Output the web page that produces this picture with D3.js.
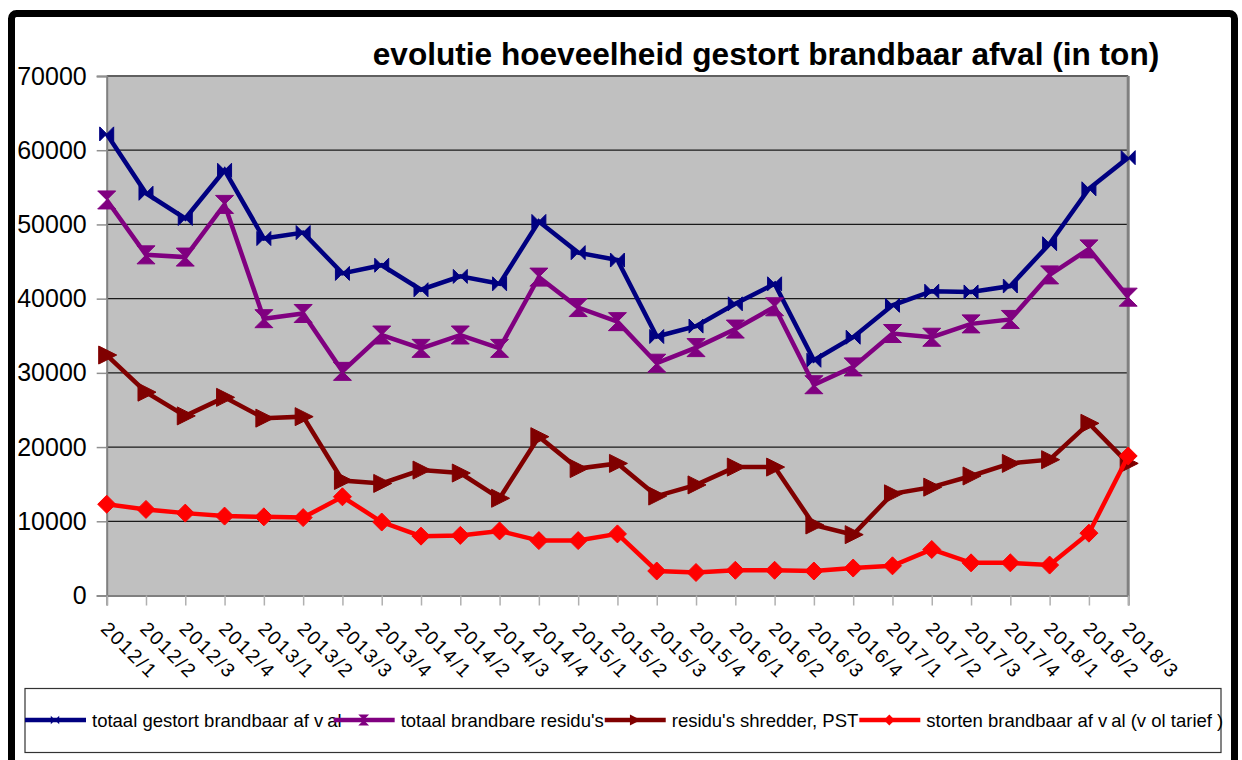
<!DOCTYPE html>
<html><head><meta charset="utf-8">
<script src="https://cdn.jsdelivr.net/npm/d3@7"></script>
<style>
html,body{margin:0;padding:0;background:#fff;}
text{font-family:"Liberation Sans",Arial,sans-serif;}
</style></head>
<body>
<svg id="chart" width="1242" height="760"></svg>
<script>
const categories = ["2012/1","2012/2","2012/3","2012/4","2013/1","2013/2","2013/3","2013/4","2014/1","2014/2","2014/3","2014/4","2015/1","2015/2","2015/3","2015/4","2016/1","2016/2","2016/3","2016/4","2017/1","2017/2","2017/3","2017/4","2018/1","2018/2","2018/3"];
const totaalGestort = [62200,54200,50800,57300,48100,48900,43400,44500,41200,43000,42000,50400,46200,45200,34900,36300,39300,42000,31700,34800,39100,41000,40900,41700,47400,54800,59000];
const totaalResidus = [53300,45900,45600,52700,37300,38000,30200,35100,33300,35100,33300,42900,38800,36900,31300,33400,35900,38900,28400,30800,35300,34800,36600,37200,43200,46700,40200];
const residusShredder = [32400,27400,24200,26700,23900,24100,15500,15100,16900,16500,13100,21400,17100,17800,13400,14900,17300,17300,9500,8200,13700,14600,16100,17800,18300,23200,17800];
const stortenVolTarief = [12300,11600,11100,10700,10600,10500,13300,9900,8000,8100,8700,7400,7400,8300,3300,3100,3400,3400,3300,3700,4000,6200,4400,4400,4100,8400,18800];
const yTicks = [0,10000,20000,30000,40000,50000,60000,70000];
const seriesNames = ["totaal gestort brandbaar afval","totaal brandbare residu's","residu's shredder, PST","storten brandbaar afval (vol tarief)"];
const seriesColors = ["#000080","#800080","#800000","#FF0000"];

const svg = d3.select("#chart");
const L = 106.7, R = 1128.2, T = 76, B = 595.5;

// outer frame
svg.append("rect").attr("x",11.5).attr("y",13.5).attr("width",1223).attr("height",770)
  .attr("rx",5).attr("fill","#fff").attr("stroke","#000").attr("stroke-width",7);

const x = d3.scalePoint().domain(categories).range([L,R]);
const y = d3.scaleLinear().domain([0,70000]).range([B,T]);

// plot background
svg.append("rect").attr("x",L).attr("y",T).attr("width",R-L).attr("height",B-T).attr("fill","#C0C0C0");

// gridlines
svg.append("g").selectAll("line").data(yTicks.filter(d=>d>0 && d<70000)).join("line")
  .attr("x1",L).attr("x2",R).attr("y1",d=>y(d)).attr("y2",d=>y(d))
  .attr("stroke","#1a1a1a").attr("stroke-width",1.2);
// plot border
svg.append("line").attr("x1",L).attr("x2",R).attr("y1",T).attr("y2",T).attr("stroke","#606060").attr("stroke-width",2);
svg.append("line").attr("x1",R).attr("x2",R).attr("y1",T).attr("y2",B).attr("stroke","#808080").attr("stroke-width",3);

// y axis
const yAxis = svg.append("g").attr("transform",`translate(${L},0)`)
  .call(d3.axisLeft(y).tickValues(yTicks).tickSize(10).tickPadding(10).tickFormat(d3.format("d")));
yAxis.select(".domain").attr("stroke","#808080").attr("stroke-width",2);
yAxis.selectAll(".tick line").attr("stroke","#909090").attr("stroke-width",1.5);
yAxis.selectAll(".tick text").attr("font-size",25).attr("fill","#000")
  .attr("font-family","'Liberation Sans',Arial,sans-serif");

// x axis
const xAxis = svg.append("g").attr("transform",`translate(0,${B})`)
  .call(d3.axisBottom(x).tickSize(10).tickFormat(""));
xAxis.select(".domain").attr("stroke","#808080").attr("stroke-width",2);
xAxis.selectAll(".tick line").attr("stroke","#b0b0b0").attr("stroke-width",1.5);
svg.append("g").selectAll("text").data(categories).join("text")
  .attr("transform",d=>`translate(${x(d)+3},${620}) rotate(45)`)
  .attr("dy","0.72em").attr("font-size",19.5).attr("letter-spacing",1.8).attr("fill","#000").text(d=>d);

// title
svg.append("text").attr("x",766).attr("y",65).attr("text-anchor","middle")
  .attr("font-size",31.6).attr("font-weight","bold").attr("fill","#000")
  .text("evolutie hoeveelheid gestort brandbaar afval (in ton)");

// markers
const markerPaths = [
  s=>`M${-7*s},${-7*s}L0,0L${-7*s},${7*s}Z M${7*s},${-7*s}L0,0L${7*s},${7*s}Z`,
  s=>`M${-9*s},${-9*s}L${9*s},${-9*s}L0,0Z M${-9*s},${9*s}L${9*s},${9*s}L0,0Z`,
  s=>`M${-8*s},${-9*s}L${10*s},0L${-8*s},${9*s}Z`,
  s=>`M0,${-9*s}L${9*s},0L0,${9*s}L${-9*s},0Z`
];
const seriesData = [totaalGestort,totaalResidus,residusShredder,stortenVolTarief];
const line = d3.line().x((d,i)=>x(categories[i])).y(d=>y(d));

seriesData.forEach((vals,k)=>{
  const g = svg.append("g");
  g.append("path").attr("d",line(vals)).attr("fill","none")
    .attr("stroke",seriesColors[k]).attr("stroke-width",4.5).attr("stroke-linejoin","miter");
  g.selectAll("path.m").data(vals).join("path").attr("class","m")
    .attr("transform",(d,i)=>`translate(${x(categories[i])},${y(d)})`)
    .attr("d",markerPaths[k](1)).attr("fill",seriesColors[k])
    .attr("stroke",seriesColors[k]).attr("stroke-width",1);
});

// legend
svg.append("rect").attr("x",25).attr("y",688.5).attr("width",1196).attr("height",64)
  .attr("fill","#fff").attr("stroke","#333").attr("stroke-width",1.2);
let lx = 25;
const ly = 720;
seriesNames.forEach((name,k)=>{
  svg.append("line").attr("x1",lx).attr("x2",lx+61).attr("y1",ly).attr("y2",ly)
    .attr("stroke",seriesColors[k]).attr("stroke-width",4.5);
  svg.append("path").attr("transform",`translate(${lx+30},${ly})`)
    .attr("d",markerPaths[k](0.6)).attr("fill",seriesColors[k]);
  const t = svg.append("text").attr("x",lx+67).attr("y",727).attr("font-size",18.5).attr("fill","#000");
  if (name.indexOf("afval")>=0) {
    const parts = name.split("afval");
    t.append("tspan").text(parts[0]+"af");
    t.append("tspan").attr("dx",5).text("v");
    t.append("tspan").attr("dx",4).text("al"+parts[1].replace("(vol","(v ol").replace("tarief)","tarief )"));
  } else t.text(name);
  lx = lx + 67 + t.node().getComputedTextLength() + 1;
});
</script>
</body></html>
